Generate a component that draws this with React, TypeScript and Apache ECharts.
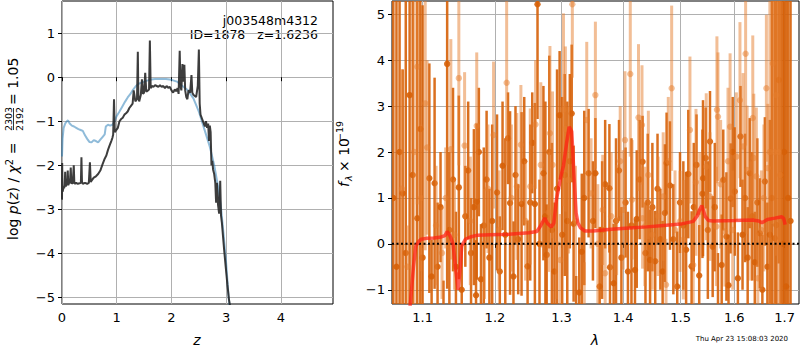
import React, { useEffect, useRef } from 'react';
import * as echarts from 'echarts';

// ---------- left panel: log p(z) ----------
const zBlack = [0.000, 0.003, 0.010, 0.020, 0.030, 0.040, 0.050, 0.058, 0.065, 0.080, 0.095, 0.105, 0.115, 0.130, 0.145, 0.160, 0.170, 0.180, 0.195, 0.215, 0.225, 0.240, 0.260, 0.290, 0.320, 0.345, 0.355, 0.365, 0.380, 0.420, 0.460, 0.490, 0.510, 0.525, 0.540, 0.580, 0.620, 0.660, 0.700, 0.740, 0.780, 0.810, 0.840, 0.870, 0.900, 0.920, 0.935, 0.950, 0.965, 0.990, 1.020, 1.050, 1.080, 1.110, 1.140, 1.170, 1.200, 1.230, 1.260, 1.290, 1.310, 1.340, 1.370, 1.385, 1.395, 1.410, 1.440, 1.460, 1.480, 1.500, 1.520, 1.540, 1.570, 1.590, 1.605, 1.620, 1.640, 1.670, 1.700, 1.730, 1.760, 1.790, 1.820, 1.850, 1.880, 1.910, 1.940, 1.970, 2.000, 2.030, 2.060, 2.090, 2.110, 2.130, 2.150, 2.165, 2.180, 2.200, 2.220, 2.235, 2.250, 2.270, 2.290, 2.310, 2.340, 2.365, 2.380, 2.400, 2.420, 2.450, 2.480, 2.500, 2.515, 2.530, 2.560, 2.590, 2.610, 2.630, 2.650, 2.670, 2.685, 2.700, 2.715, 2.730, 2.745, 2.760, 2.780, 2.800, 2.815, 2.830, 2.850, 2.870, 2.890, 2.905, 2.920, 2.940, 2.960, 2.990, 3.020, 3.050, 3.070];
const pBlack = [-2.78, -1.95, -2.60, -2.55, -2.50, -2.52, -2.45, -2.15, -2.48, -2.45, -2.42, -2.12, -2.45, -2.40, -2.38, -2.05, -2.42, -2.40, -2.42, -2.00, -2.40, -2.42, -2.40, -2.42, -2.41, -2.40, -1.82, -2.38, -2.42, -2.40, -2.42, -2.40, -1.93, -2.38, -2.35, -2.28, -2.25, -2.20, -2.12, -1.98, -1.85, -1.78, -1.65, -1.55, -1.45, -1.38, -1.30, -0.50, -1.25, -1.20, -1.15, -1.00, -0.95, -0.92, -0.85, -0.82, -0.78, -0.70, -0.65, -0.60, -0.30, -0.55, -0.50, 0.58, -0.45, -0.55, -0.40, -0.05, -0.38, -0.35, 0.10, -0.33, -0.30, -0.28, 0.83, -0.25, -0.20, -0.22, -0.18, -0.20, -0.22, -0.18, -0.22, -0.20, -0.25, -0.20, -0.24, -0.22, -0.30, -0.35, -0.28, -0.32, -0.25, -0.38, 0.60, -0.20, -0.30, 0.30, -0.10, 0.28, -0.30, -0.45, -0.50, -0.30, -0.35, 0.05, -0.35, -0.40, -0.42, -0.45, -0.20, 0.63, -0.60, -0.85, -0.95, -1.05, -1.12, -1.00, -1.15, -1.05, -1.45, -1.10, -1.25, -2.00, -1.90, -2.10, -2.20, -2.40, -2.85, -2.40, -2.90, -3.10, -2.35, -3.15, -3.30, -3.60, -3.90, -4.30, -4.70, -5.05, -5.20];

const zBlue = [0.00, 0.01, 0.03, 0.06, 0.09, 0.11, 0.14, 0.18, 0.22, 0.26, 0.30, 0.34, 0.38, 0.42, 0.46, 0.50, 0.54, 0.58, 0.62, 0.66, 0.70, 0.74, 0.78, 0.80, 0.84, 0.88, 0.92, 0.96, 1.00, 1.05, 1.10, 1.15, 1.20, 1.25, 1.30, 1.35, 1.40, 1.50, 1.60, 1.70, 1.80, 1.90, 2.00, 2.10, 2.20, 2.30, 2.40, 2.50, 2.60, 2.70, 2.78, 2.85, 2.90, 2.95, 3.00, 3.04, 3.07];
const pBlue = [-1.80, -1.40, -1.15, -1.05, -1.00, -0.98, -1.05, -1.10, -1.12, -1.15, -1.18, -1.20, -1.22, -1.32, -1.40, -1.47, -1.48, -1.43, -1.45, -1.48, -1.42, -1.36, -1.30, -1.12, -1.08, -1.10, -1.08, -1.00, -0.88, -0.78, -0.67, -0.56, -0.46, -0.38, -0.28, -0.20, -0.15, -0.10, -0.06, -0.04, -0.04, -0.04, -0.06, -0.10, -0.20, -0.30, -0.48, -0.78, -1.18, -1.58, -2.00, -2.48, -2.92, -3.55, -4.25, -4.95, -5.30];

const zTicks = [0, 1, 2, 3, 4];
const pTicks = [-5, -4, -3, -2, -1, 0, 1];

// ---------- right panel: spectrum ----------
const darkWave = [1.062, 1.066, 1.070, 1.074, 1.078, 1.083, 1.087, 1.093, 1.097, 1.100, 1.109, 1.112, 1.116, 1.120, 1.124, 1.128, 1.133, 1.136, 1.141, 1.145, 1.149, 1.153, 1.158, 1.162, 1.166, 1.170, 1.173, 1.174, 1.177, 1.180, 1.184, 1.188, 1.192, 1.196, 1.203, 1.207, 1.211, 1.215, 1.219, 1.222, 1.227, 1.230, 1.234, 1.239, 1.243, 1.248, 1.252, 1.255, 1.259, 1.263, 1.266, 1.272, 1.275, 1.277, 1.281, 1.285, 1.289, 1.293, 1.297, 1.301, 1.305, 1.309, 1.313, 1.316, 1.319, 1.323, 1.328, 1.332, 1.336, 1.343, 1.350, 1.354, 1.361, 1.365, 1.370, 1.377, 1.378, 1.384, 1.388, 1.393, 1.397, 1.404, 1.408, 1.414, 1.420, 1.423, 1.428, 1.433, 1.438, 1.442, 1.446, 1.450, 1.455, 1.459, 1.464, 1.468, 1.472, 1.475, 1.481, 1.487, 1.494, 1.499, 1.505, 1.510, 1.514, 1.520, 1.524, 1.529, 1.534, 1.540, 1.541, 1.546, 1.550, 1.554, 1.559, 1.563, 1.569, 1.576, 1.579, 1.585, 1.589, 1.593, 1.597, 1.601, 1.607, 1.612, 1.616, 1.621, 1.626, 1.630, 1.635, 1.640, 1.645, 1.650, 1.655, 1.660, 1.665, 1.670, 1.674, 1.680, 1.683, 1.688, 1.692, 1.696, 1.699, 1.703, 1.707, 1.712];
const darkFlux = [1.0, -0.5, 2.0, 1.1, -0.2, 3.24, 1.5, 0.56, 2.5, -0.3, 1.43, -0.71, 1.32, -0.5, 0.8, -1.6, 3.92, 0.3, 1.4, -0.5, 1.23, -1.0, 0.6, 1.6, -0.2, 0.8, -1.12, 0.92, 2.0, -0.77, 0.4, 1.4, -0.3, 0.5, 1.12, -0.6, 1.7, 0.2, 2.3, 0.89, -0.71, 1.5, 0.1, 0.87, 1.8, -0.49, 0.9, 2.2, 0.87, 5.22, 0.0, 1.54, 0.6, -0.24, 2.0, 0.3, -0.6, 1.2, 2.8, 0.2, 1.5, 0.5, 1.8, 2.84, 0.44, -1.8, -1.06, -0.17, 1.0, 1.54, 0.5, 1.54, -0.93, 0.3, 1.3, 1.21, -0.51, -0.86, 0.5, 1.6, -0.3, 0.9, -0.6, 0.4, -0.57, 0.54, 1.4, 1.79, -0.2, 0.9, -0.35, 0.8, -0.38, 1.2, 0.1, -0.6, 0.67, 1.76, 1.27, 0.1, -0.93, 0.9, 0.4, -0.13, 1.52, -0.49, 0.8, 1.72, -0.69, 1.09, 1.43, 1.87, 0.3, 2.23, -0.06, 0.8, -1.4, -0.46, 1.39, 0.16, -0.9, 0.99, 2.0, 1.14, -0.75, 2.34, 0.2, 1.0, -0.3, 1.54, 0.6, -0.4, 0.9, 0.23, -1.0, 1.36, -0.5, 0.2, 1.0, 0.12, 0.41, 3.57, 1.5, 0.0, 2.0, -0.93, 1.0, 0.5];
const darkErr = [7, 6, 6.5, 2.7, 6, 5, 6.5, 6, 5, 5.5, 2.5, 0.8, 2.3, 1.4, 1.2, 0.8, 4.9, 1.7, 2.0, 1.2, 2.0, 1.0, 1.1, 1.5, 1.2, 1.7, 1.2, 1.7, 1.4, 1.2, 1.7, 1.5, 1.5, 2.1, 1.7, 1.2, 1.4, 2.1, 1.0, 2.0, 1.2, 1.5, 1.2, 2.0, 1.4, 1.0, 1.7, 1.1, 2.2, 2.5, 1.4, 1.9, 2.5, 1.1, 2.1, 1.9, 1.5, 2.6, 1.4, 3.0, 2.2, 2.6, 1.9, 1.5, 1.7, 1.1, 1.2, 1.7, 1.9, 1.4, 1.3, 1.2, 1.3, 1.5, 1.4, 1.4, 0.8, 1.3, 1.8, 1.1, 1.1, 1.2, 1.3, 1.9, 1.1, 1.5, 1.3, 1.0, 1.1, 1.5, 1.1, 1.4, 1.1, 1.2, 1.1, 1.1, 1.5, 1.1, 1.4, 1.2, 1.2, 1.1, 1.4, 1.7, 1.4, 1.2, 1.4, 1.1, 1.1, 1.4, 1.7, 1.1, 1.5, 1.1, 1.1, 1.4, 1.2, 1.1, 1.1, 1.4, 1.1, 1.2, 1.2, 1.4, 1.0, 1.1, 1.2, 1.4, 1.1, 1.2, 1.4, 1.1, 1.4, 1.2, 1.2, 1.4, 1.4, 2.5, 5, 5.5, 6, 4, 6, 6.5, 7, 7, 7, 7];

const lightWave = [1.073, 1.080, 1.089, 1.093, 1.098, 1.1035, 1.106, 1.118, 1.126, 1.131, 1.138, 1.143, 1.149, 1.157, 1.165, 1.174, 1.185, 1.190, 1.198, 1.206, 1.217, 1.224, 1.232, 1.238, 1.245, 1.252, 1.260, 1.268, 1.280, 1.282, 1.286, 1.292, 1.298, 1.303, 1.306, 1.311, 1.317, 1.322, 1.336, 1.340, 1.347, 1.354, 1.358, 1.366, 1.370, 1.380, 1.389, 1.395, 1.400, 1.403, 1.412, 1.415, 1.426, 1.432, 1.433, 1.437, 1.443, 1.450, 1.460, 1.469, 1.474, 1.478, 1.484, 1.490, 1.499, 1.505, 1.517, 1.523, 1.528, 1.535, 1.547, 1.554, 1.566, 1.567, 1.569, 1.574, 1.582, 1.588, 1.592, 1.597, 1.604, 1.611, 1.617, 1.622, 1.625, 1.632, 1.636, 1.638, 1.643, 1.646, 1.653, 1.658, 1.663, 1.666, 1.670, 1.676, 1.679, 1.683, 1.687, 1.691];
const lightFlux = [1.2, -0.5, 2.0, 3.86, 1.0, 3.06, 2.1, 0.4, -0.2, 1.0, 2.06, 0.2, 3.61, 2.14, 0.5, 2.57, 0.0, 1.2, 2.37, 0.3, 3.51, 1.0, 1.25, 2.16, 0.5, 1.25, 2.6, 1.72, 0.69, 2.41, 1.72, 0.0, -0.35, 2.92, 2.5, 1.39, 5.22, 0.5, -1.6, 2.7, 1.10, 3.24, 0.0, 0.74, -0.64, 0.6, 0.52, 1.8, 0.74, 2.26, 3.70, 0.96, 2.75, 2.59, 0.56, 0.38, 1.5, 0.2, 0.60, 1.03, -0.89, 1.8, 3.39, 0.3, 0.49, 0.09, 2.48, -0.46, 1.34, 0.7, 1.68, 1.03, 0.38, 2.92, 2.77, 1.3, 0.27, 1.8, 2.55, 0.30, 1.9, 3.13, 2.12, 4.14, 1.61, 0.5, 2.74, 1.87, 1.47, -0.75, 0.30, 1.0, 3.39, 1.65, 2.0, 3.93, 2.0, 3.24, 2.0, 1.5];
const lightErr = [2.6, 0.9, 4.5, 3.0, 1.6, 3.2, 1.9, 1.3, 1.0, 1.1, 2.4, 1.2, 1.9, 1.6, 1.4, 1.6, 1.2, 1.4, 1.6, 1.3, 1.8, 1.6, 1.6, 1.3, 1.3, 1.7, 1.4, 1.8, 1.3, 1.9, 1.6, 1.2, 1.0, 2.1, 1.8, 1.6, 1.6, 1.2, 1.2, 1.7, 1.2, 1.6, 1.3, 1.2, 1.0, 1.4, 1.2, 1.2, 1.3, 1.5, 1.8, 1.3, 1.6, 1.3, 1.1, 1.3, 1.4, 1.2, 1.3, 1.4, 1.0, 1.4, 1.8, 1.3, 1.1, 1.3, 1.6, 1.1, 1.6, 1.3, 1.6, 1.4, 1.3, 1.6, 1.4, 1.4, 1.2, 1.6, 1.6, 1.3, 1.4, 1.7, 1.6, 2.0, 1.4, 1.3, 1.8, 1.4, 1.5, 1.0, 1.3, 1.6, 1.6, 1.4, 4, 3.5, 4.5, 3.5, 5, 5];

const modelWave = [1.080, 1.084, 1.088, 1.091, 1.095, 1.098, 1.105, 1.115, 1.125, 1.130, 1.133, 1.137, 1.141, 1.145, 1.148, 1.151, 1.153, 1.158, 1.165, 1.175, 1.193, 1.220, 1.250, 1.262, 1.268, 1.274, 1.278, 1.284, 1.288, 1.292, 1.299, 1.303, 1.308, 1.312, 1.316, 1.320, 1.323, 1.326, 1.330, 1.337, 1.350, 1.380, 1.404, 1.440, 1.470, 1.500, 1.523, 1.531, 1.535, 1.539, 1.545, 1.551, 1.560, 1.600, 1.635, 1.648, 1.654, 1.665, 1.680, 1.694, 1.698, 1.701];
const modelFlux = [-1.8, -1.3, -0.5, -0.05, 0.05, 0.10, 0.12, 0.13, 0.15, 0.18, 0.27, 0.17, 0.0, -0.6, -1.0, -0.5, -0.05, 0.10, 0.15, 0.19, 0.20, 0.21, 0.24, 0.27, 0.40, 0.56, 0.45, 0.37, 0.45, 0.96, 1.47, 1.70, 2.20, 2.55, 2.45, 1.40, 0.67, 0.45, 0.35, 0.28, 0.28, 0.32, 0.34, 0.37, 0.40, 0.43, 0.49, 0.62, 0.75, 0.83, 0.60, 0.51, 0.50, 0.51, 0.52, 0.50, 0.46, 0.53, 0.56, 0.59, 0.55, 0.42];

const lamTicks = [1.1, 1.2, 1.3, 1.4, 1.5, 1.6, 1.7];
const fTicks = [-1, 0, 1, 2, 3, 4, 5];

const FONT = 'DejaVu Sans';
const minus = (v: number | string) => String(v).replace('-', '\u2212');

const makeErr = (w: number, r: number, color: string) => (params: any, api: any) => {
  const x = api.value(0);
  const y = api.value(1);
  const e = api.value(2);
  const cs = params.coordSys;
  const pTop = api.coord([x, y + e]);
  const pBot = api.coord([x, y - e]);
  const pc = api.coord([x, y]);
  const y1 = Math.max(pTop[1], cs.y);
  const y2 = Math.min(pBot[1], cs.y + cs.height);
  const children: any[] = [];
  if (y2 > y1) {
    children.push({ type: 'rect', shape: { x: pc[0] - w / 2, y: y1, width: w, height: y2 - y1 }, style: { fill: color } });
  }
  if (pc[1] >= cs.y - 1 && pc[1] <= cs.y + cs.height + 1) {
    children.push({ type: 'circle', shape: { cx: pc[0], cy: pc[1], r }, style: { fill: color } });
  }
  return { type: 'group', children };
};

const tickStyle = { show: true, length: 4, lineStyle: { color: '#000', width: 1 } };
const gridLine = { show: true, lineStyle: { color: '#b0b0b0', width: 1 } };
const labelBase = { color: '#000', fontSize: 13, fontFamily: FONT };

export default function App() {
  const ref = useRef<HTMLDivElement>(null);
  useEffect(() => {
    if (!ref.current) return;
    const chart = echarts.init(ref.current, undefined, { renderer: 'svg' });
    const option: any = {
      animation: false,
      backgroundColor: '#fff',
      grid: [
        { left: 62, top: 1, width: 271, height: 303, show: true, borderColor: '#000', borderWidth: 1, backgroundColor: 'transparent' },
        { left: 392, top: 1, width: 407, height: 303, show: true, borderColor: '#000', borderWidth: 1, backgroundColor: 'transparent' },
      ],
      xAxis: [
        {
          gridIndex: 0, type: 'value', min: 0, max: 4.95,
          axisLine: { show: false }, axisTick: { ...tickStyle, customValues: zTicks },
          axisLabel: { ...labelBase, margin: 7, customValues: zTicks, formatter: (v: number) => minus(v) },
          splitLine: gridLine,
        },
        {
          gridIndex: 1, type: 'log', min: 1.0603, max: 1.7295,
          axisLine: { show: false }, axisTick: { ...tickStyle, customValues: lamTicks },
          axisLabel: { ...labelBase, margin: 7, customValues: lamTicks, formatter: (v: number) => v.toFixed(1) },
          splitLine: gridLine, minorTick: { show: false }, minorSplitLine: { show: false },
        },
      ],
      yAxis: [
        {
          gridIndex: 0, type: 'value', min: -5.15, max: 1.73,
          axisLine: { show: false }, axisTick: { ...tickStyle, customValues: pTicks },
          axisLabel: { ...labelBase, margin: 7, customValues: pTicks, formatter: (v: number) => minus(v) },
          splitLine: gridLine,
        },
        {
          gridIndex: 1, type: 'value', min: -1.31, max: 5.29,
          axisLine: { show: false }, axisTick: { ...tickStyle, customValues: fTicks },
          axisLabel: { ...labelBase, margin: 7, customValues: fTicks, formatter: (v: number) => minus(v) },
          splitLine: gridLine,
        },
      ],
      series: [
        {
          type: 'line', xAxisIndex: 0, yAxisIndex: 0, showSymbol: false, symbol: 'none', clip: true,
          data: zBlue.map((z, i) => [z, pBlue[i]]),
          lineStyle: { color: 'rgba(31,119,180,0.5)', width: 2 }, z: 2,
        },
        {
          type: 'line', xAxisIndex: 0, yAxisIndex: 0, showSymbol: false, symbol: 'none', clip: true,
          data: zBlack.map((z, i) => [z, pBlack[i]]),
          lineStyle: { color: 'rgba(40,40,40,0.9)', width: 2 }, z: 3,
        },
        {
          type: 'custom', xAxisIndex: 1, yAxisIndex: 1, clip: true,
          renderItem: makeErr(2.5, 3.2, 'rgba(214,96,8,0.9)'),
          encode: { x: 0, y: 1 },
          data: darkWave.map((w, i) => [w, darkFlux[i], darkErr[i]]), z: 2,
        },
        {
          type: 'custom', xAxisIndex: 1, yAxisIndex: 1, clip: true,
          renderItem: makeErr(3, 3.2, 'rgba(230,125,45,0.5)'),
          encode: { x: 0, y: 1 },
          data: lightWave.map((w, i) => [w, lightFlux[i], lightErr[i]]), z: 3,
        },
        {
          type: 'line', xAxisIndex: 1, yAxisIndex: 1, showSymbol: false, symbol: 'none', clip: true,
          data: [[1.0603, 0], [1.7295, 0]],
          lineStyle: { color: '#000', width: 2, type: [2, 2.5] }, z: 4,
        },
        {
          type: 'line', xAxisIndex: 1, yAxisIndex: 1, showSymbol: false, symbol: 'none', clip: true,
          data: modelWave.map((w, i) => [w, modelFlux[i]]),
          lineStyle: { color: 'rgba(255,30,20,0.72)', width: 3.5 }, z: 5,
        },
      ],
      graphic: [
        { type: 'text', x: 318, y: 20, style: { text: 'j003548m4312', font: `12.5px ${FONT}`, fill: '#000', textAlign: 'right', textVerticalAlign: 'middle' } },
        { type: 'text', x: 318, y: 34, style: { text: 'ID=1878   z=1.6236', font: `12.5px ${FONT}`, fill: '#000', textAlign: 'right', textVerticalAlign: 'middle' } },
        { type: 'text', x: 197, y: 340, style: { text: 'z', font: `italic 14px ${FONT}`, fill: '#000', textAlign: 'center', textVerticalAlign: 'middle' } },
        { type: 'text', x: 595, y: 340, style: { text: 'λ', font: `italic 14px ${FONT}`, fill: '#000', textAlign: 'center', textVerticalAlign: 'middle' } },
        { type: 'text', x: 788, y: 339, style: { text: 'Thu Apr 23 15:08:03 2020', font: `7px ${FONT}`, fill: '#000', textAlign: 'right', textVerticalAlign: 'middle' } },
        {
          type: 'group', x: 13, y: 240, rotation: Math.PI / 2,
          children: [
            {
              type: 'text', x: 0, y: 0,
              style: {
                text: '{n|log }{i|p}{n|(}{i|z}{n|) / }{i|χ}{s|2}{n| =}',
                textAlign: 'left', textVerticalAlign: 'middle',
                rich: {
                  n: { font: `14px ${FONT}`, fill: '#000' },
                  i: { font: `italic 14px ${FONT}`, fill: '#000' },
                  s: { font: `10px ${FONT}`, fill: '#000', padding: [0, 0, 8, 0] },
                },
              },
            },
            { type: 'text', x: 121, y: -5, style: { text: '2303', font: `9.5px ${FONT}`, fill: '#000', textAlign: 'center', textVerticalAlign: 'middle' } },
            { type: 'line', shape: { x1: 110, y1: 0.5, x2: 132, y2: 0.5 }, style: { stroke: '#000', lineWidth: 0.8 } },
            { type: 'text', x: 121, y: 6, style: { text: '2192', font: `9.5px ${FONT}`, fill: '#000', textAlign: 'center', textVerticalAlign: 'middle' } },
            { type: 'text', x: 135, y: 0, style: { text: '= 1.05', font: `14px ${FONT}`, fill: '#000', textAlign: 'left', textVerticalAlign: 'middle' } },
          ],
        },
        {
          type: 'group', x: 344, y: 187, rotation: Math.PI / 2,
          children: [
            { type: 'text', x: 0, y: 0, style: { text: 'f', font: `italic 14px ${FONT}`, fill: '#000', textAlign: 'left', textVerticalAlign: 'middle' } },
            { type: 'text', x: 6, y: 4, style: { text: 'λ', font: `italic 9.5px ${FONT}`, fill: '#000', textAlign: 'left', textVerticalAlign: 'middle' } },
            { type: 'text', x: 15, y: 0, style: { text: '× 10', font: `14px ${FONT}`, fill: '#000', textAlign: 'left', textVerticalAlign: 'middle' } },
            { type: 'text', x: 46, y: -5, style: { text: '\u221219', font: `9.5px ${FONT}`, fill: '#000', textAlign: 'left', textVerticalAlign: 'middle' } },
          ],
        },
      ],
    };
    chart.setOption(option);
    return () => chart.dispose();
  }, []);
  return <div ref={ref} style={{ position: 'fixed', left: 0, top: 0, width: 800, height: 350 }} />;
}
